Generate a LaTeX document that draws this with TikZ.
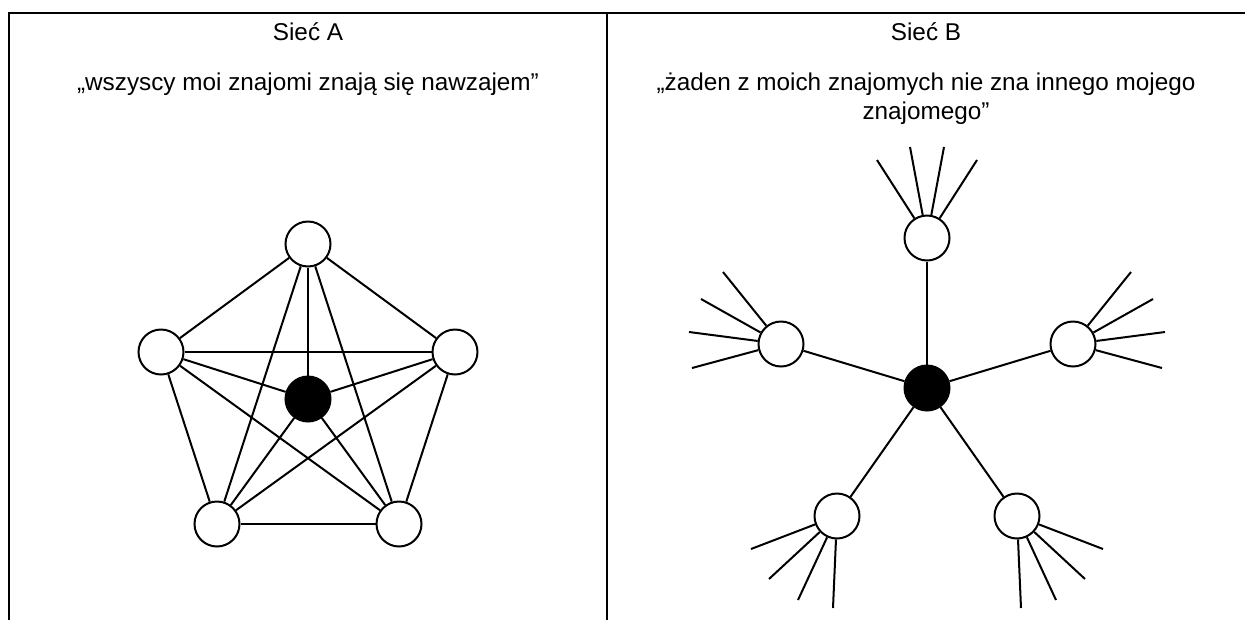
\documentclass[tikz,border=0pt]{standalone}
\usepackage{fontspec}
\setmainfont{Liberation Sans}
\begin{document}
\begin{tikzpicture}[x=1pt,y=-1pt,
  frame/.style={line width=2pt, line cap=rect},
  edge/.style={line width=2pt},
  person/.style={circle,draw,line width=2pt,fill=white,minimum size=45pt,inner sep=0pt},
  me/.style={person,fill=black},
  txt/.style={font=\fontsize{24.3}{28}\selectfont, inner sep=0pt, anchor=base}]
\useasboundingbox (0,0) rectangle (1245,619);
% frame
\coordinate (tl) at (8.5,13);
\coordinate (tr) at (1246,13);
\coordinate (bl) at (8.5,620);
\coordinate (tm) at (607,13);
\coordinate (bm) at (607,620);
\draw[frame] (bl) -- (tl) -- (tr);
\draw[frame] (tm) -- (bm);
% texts
\node[txt] (titleA) at (308,40.7) {Sieć A};
\node[txt] (subA) at (308,90) {„wszyscy moi znajomi znają się nawzajem”};
\node[txt] (titleB) at (926,40.7) {Sieć B};
\node[txt] (subB1) at (926,90) {„żaden z moich znajomych nie zna innego mojego};
\node[txt] (subB2) at (926,119) {znajomego”};
% Network A
\coordinate (Ac) at (308,399);
\node[person] (AT) at (308,244) {};
\node[person] (AL) at (161,352) {};
\node[person] (AR) at (455,352) {};
\node[person] (ABL) at (217,524) {};
\node[person] (ABR) at (399,524) {};
\foreach \a/\b in {AT/AL,AT/AR,AT/ABL,AT/ABR,AL/AR,AL/ABL,AL/ABR,AR/ABL,AR/ABR,ABL/ABR}
  \draw[edge] (\a) -- (\b);
\node[me] (AC) at (Ac) {};
\foreach \a in {AT,AL,AR,ABL,ABR}
  \draw[edge] (AC) -- (\a);
% Network B
\node[me] (BC) at (927,388) {};
\node[person] (BT) at (927,238) {};
\node[person] (BL) at (781,344) {};
\node[person] (BR) at (1073,344) {};
\node[person] (BBL) at (837,516) {};
\node[person] (BBR) at (1017,516) {};
\foreach \a in {BT,BL,BR,BBL,BBR}
  \draw[edge] (BC) -- (\a);
\foreach \p/\n/\x/\y in {
  BT/t1/877/160, BT/t2/910/147, BT/t3/944/147, BT/t4/977/160,
  BL/l1/723/272, BL/l2/701/299, BL/l3/689/332, BL/l4/692/368,
  BR/r1/1131/272, BR/r2/1153/299, BR/r3/1165/332, BR/r4/1162/368,
  BBL/bl1/751/549, BBL/bl2/769/579, BBL/bl3/798/600, BBL/bl4/833/608,
  BBR/br1/1103/549, BBR/br2/1085/579, BBR/br3/1056/600, BBR/br4/1021/608}
{
  \coordinate (\n) at (\x,\y);
  \draw[edge] (\p) -- (\n);
}
\end{tikzpicture}
\end{document}
